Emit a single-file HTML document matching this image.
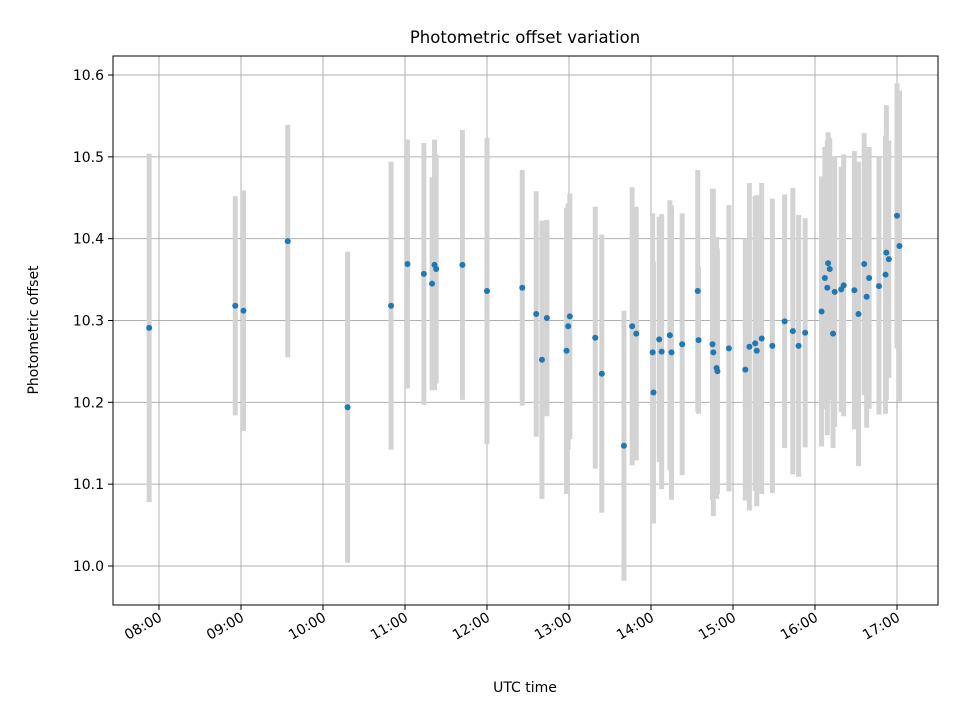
<!DOCTYPE html>
<html><head><meta charset="utf-8"><style>
body{margin:0;background:#fff;}
svg{font-family:"DejaVu Sans","Liberation Sans",sans-serif;}
</style></head><body>
<svg id="chart" width="960" height="720" viewBox="0 0 960 720">
<rect width="960" height="720" fill="#fff"/>
<g id="grid"></g><g id="errs"></g><g id="pts"></g><g id="axes"></g>
<text x="525" y="43" font-size="16.5" text-anchor="middle">Photometric offset variation</text>
<text x="525" y="692" font-size="14" text-anchor="middle">UTC time</text>
<text x="38" y="330" font-size="14" text-anchor="middle" transform="rotate(-90 38 330)">Photometric offset</text>
</svg>
<script>
const times=[7.88,8.93,9.03,9.57,10.30,10.83,11.03,11.23,11.33,11.36,11.38,11.70,12.00,12.43,12.60,12.67,12.73,12.97,12.99,13.01,13.32,13.40,13.67,13.77,13.82,14.02,14.03,14.10,14.13,14.23,14.25,14.38,14.57,14.58,14.75,14.76,14.80,14.81,14.95,15.15,15.20,15.27,15.29,15.35,15.48,15.63,15.73,15.80,15.88,16.08,16.12,16.15,16.16,16.18,16.22,16.24,16.32,16.35,16.48,16.53,16.60,16.63,16.66,16.78,16.86,16.87,16.90,17.00,17.03];
const values=[10.291,10.318,10.312,10.397,10.194,10.318,10.369,10.357,10.345,10.368,10.363,10.368,10.336,10.340,10.308,10.252,10.303,10.263,10.293,10.305,10.279,10.235,10.147,10.293,10.284,10.261,10.212,10.277,10.262,10.282,10.261,10.271,10.336,10.276,10.271,10.261,10.242,10.238,10.266,10.240,10.268,10.272,10.263,10.278,10.269,10.299,10.287,10.269,10.285,10.311,10.352,10.340,10.370,10.363,10.284,10.335,10.338,10.343,10.337,10.308,10.369,10.329,10.352,10.342,10.356,10.383,10.375,10.428,10.391];
const errors=[0.213,0.134,0.147,0.142,0.19,0.176,0.152,0.16,0.13,0.153,0.14,0.165,0.187,0.144,0.15,0.17,0.12,0.175,0.15,0.15,0.16,0.17,0.165,0.17,0.155,0.17,0.16,0.15,0.168,0.165,0.18,0.16,0.148,0.09,0.19,0.2,0.16,0.15,0.175,0.16,0.2,0.18,0.19,0.19,0.18,0.155,0.175,0.16,0.14,0.165,0.16,0.18,0.16,0.16,0.14,0.165,0.15,0.16,0.17,0.186,0.16,0.16,0.16,0.157,0.17,0.18,0.145,0.162,0.19];
const yTicks=[10.0,10.1,10.2,10.3,10.4,10.5,10.6];
const xTicks=[8,9,10,11,12,13,14,15,16,17];
const xTickLabels=["08:00","09:00","10:00","11:00","12:00","13:00","14:00","15:00","16:00","17:00"];
const L=113,R=938,T=56,B=605;
const X=t=>159+(t-8)*82;
const Y=v=>566-(v-10)*818.3;
const NS="http://www.w3.org/2000/svg";
function mk(tag,attrs,parent){const e=document.createElementNS(NS,tag);for(const k in attrs)e.setAttribute(k,attrs[k]);document.getElementById(parent).appendChild(e);return e;}
yTicks.forEach((v,i)=>{
  const g=mk('line',{x1:L,x2:R,y1:Y(v),y2:Y(v),stroke:'#b0b0b0','stroke-width':1},'grid');
  
  
  const tk=mk('line',{x1:L-5,x2:L,y1:Y(v),y2:Y(v),stroke:'#000'},'axes');
  
  
  const tx=mk('text',{x:L-9,y:Y(v)+5,'font-size':14,'text-anchor':'end'},'axes');
  tx.textContent=v.toFixed(1);
  
  
});
xTicks.forEach((t,i)=>{
  const g=mk('line',{x1:X(t),x2:X(t),y1:T,y2:B,stroke:'#b0b0b0','stroke-width':1},'grid');
  
  
  const tk=mk('line',{x1:X(t),x2:X(t),y1:B,y2:B+5,stroke:'#000'},'axes');
  
  
  const tx=mk('text',{x:X(t)+4,y:B+15,'font-size':14,'text-anchor':'end',transform:`rotate(-30 ${X(t)+4} ${B+15})`},'axes');
  tx.textContent=xTickLabels[i];
  
  
});
times.forEach((t,i)=>{
  const e=mk('line',{x1:X(t),x2:X(t),y1:Y(values[i]+errors[i]),y2:Y(values[i]-errors[i]),stroke:'#d3d3d3','stroke-width':5},'errs');
  
  
  const c=mk('circle',{cx:X(t),cy:Y(values[i]),r:3,fill:'#1f77b4'},'pts');
  
  
});
const f=mk('rect',{x:L,y:T,width:R-L,height:B-T,fill:'none',stroke:'#000','stroke-width':1},'axes');


</script>
</body></html>
